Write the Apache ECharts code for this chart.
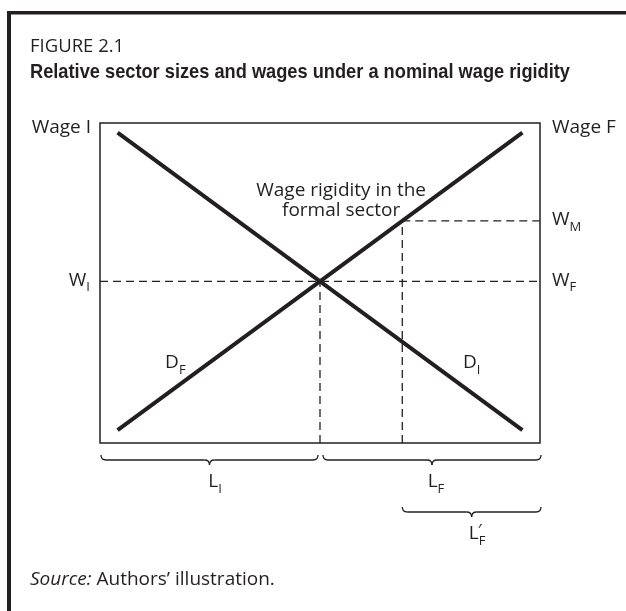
<!DOCTYPE html>
<html><head><meta charset="utf-8">
<script src="https://cdn.jsdelivr.net/npm/echarts@6/dist/echarts.min.js"></script>
<style>html,body{margin:0;padding:0;background:#fff}#c{width:626px;height:611px}</style>
</head><body><div id="c"></div>
<script>
// ---- data ----
const figureNumber = 'FIGURE 2.1';
const figureTitle = 'Relative sector sizes and wages under a nominal wage rigidity';
const sourceLabel = 'Source:';
const sourceText = ' Authors\u2019 illustration.';
const demandInformal = [[4, 97], [96, 4]];   // D_I
const demandFormal = [[4, 4], [96, 97]];     // D_F
const equilibriumPoint = [50, 50.5];
const rigidWageLevel = 69.4;                 // W_M
const rigidEmployment = 68.7;
const axisRange = [0, 100];
const rigidityNote = ['Wage rigidity in the', 'formal sector'];

const INK = '#231f20';
const FONT = '"Open Sans", "Noto Sans", sans-serif';
const TFONT = '"Liberation Sans", Arial, sans-serif';
const FS = 19;

const chart = echarts.init(document.getElementById('c'), null, {renderer: 'canvas'});

const dash = {color: INK, width: 1.3, type: [8, 5]};
function lineSeries(data, style) {
  return {type: 'line', data: data, symbol: 'none', silent: true, lineStyle: style, z: 3};
}

chart.setOption({
  animation: false,
  grid: {left: 100, top: 123, width: 440, height: 320, show: true, borderColor: INK, borderWidth: 1.5, backgroundColor: 'transparent'},
  xAxis: {type: 'value', min: axisRange[0], max: axisRange[1], show: false},
  yAxis: {type: 'value', min: axisRange[0], max: axisRange[1], show: false},
  series: [
    lineSeries([[axisRange[0], equilibriumPoint[1]], [axisRange[1], equilibriumPoint[1]]], dash),
    lineSeries([[equilibriumPoint[0], axisRange[0]], [equilibriumPoint[0], equilibriumPoint[1]]], dash),
    lineSeries([[rigidEmployment, rigidWageLevel], [axisRange[1], rigidWageLevel]], dash),
    lineSeries([[rigidEmployment, axisRange[0]], [rigidEmployment, rigidWageLevel]], dash),
    Object.assign(lineSeries(demandInformal, {color: INK, width: 4}), {z: 5}),
    Object.assign(lineSeries(demandFormal, {color: INK, width: 4}), {z: 5})
  ]
});

const mctx = document.createElement('canvas').getContext('2d');
function tw(text, size, family, weight, style) {
  mctx.font = (style || 'normal') + ' ' + (weight || 'normal') + ' ' + size + 'px ' + family;
  return mctx.measureText(text).width;
}
function txt(text, x, y, size, o) {
  o = o || {};
  return {type: 'text', x: x, y: y, silent: true, z: 10, scaleX: o.scaleX || 1,
    style: {text: text, fill: INK, fontSize: size, fontFamily: o.family || FONT,
      fontWeight: o.weight || 'normal', fontStyle: o.style || 'normal',
      textAlign: o.align || 'left', textVerticalAlign: 'middle'}};
}
function subLabel(main, sub, x, y, align, prime) {
  const ms = FS, ss = 13;
  const w = tw(main, ms, FONT), ws = tw(sub, ss, FONT);
  const total = w + ws;
  let sx = x;
  if (align === 'right') sx = x - total;
  else if (align === 'center') sx = x - total / 2;
  const els = [txt(main, sx, y, ms), txt(sub, sx + w, y + 7, ss)];
  if (prime) els.push(txt('\u2032', sx + w - 1, y - 3, 17));
  return els;
}
function toPx(p) { return chart.convertToPixel({gridIndex: 0}, p); }
const braceStyle = {fill: null, stroke: INK, lineWidth: 1.3};
function curve(xa, ya, cx, cy, xb, yb) {
  return {type: 'bezierCurve', silent: true, z: 10,
    shape: {x1: xa, y1: ya, cpx1: cx, cpy1: cy, x2: xb, y2: yb}, style: braceStyle};
}
function seg(xa, ya, xb, yb) {
  return {type: 'line', silent: true, z: 10, shape: {x1: xa, y1: ya, x2: xb, y2: yb}, style: braceStyle};
}
function brace(x1, x2, y) {
  const m = (x1 + x2) / 2, h = 5;
  return [
    curve(x1, y, x1, y + h, x1 + h, y + h),
    seg(x1 + h, y + h, m - h, y + h),
    curve(m - h, y + h, m, y + h, m, y + 2 * h),
    curve(m, y + 2 * h, m, y + h, m + h, y + h),
    seg(m + h, y + h, x2 - h, y + h),
    curve(x2 - h, y + h, x2, y + h, x2, y)
  ];
}

const pBL = toPx([axisRange[0], axisRange[0]]);
const pTR = toPx([axisRange[1], axisRange[1]]);
const pEq = toPx(equilibriumPoint);
const pRig = toPx([rigidEmployment, rigidWageLevel]);
const gL = pBL[0], gR = pTR[0], gT = pTR[1], gB = pBL[1];

const g = [];
g.push({type: 'rect', silent: true, shape: {x: 7, y: 11, width: 619, height: 3.5}, style: {fill: INK}});
g.push({type: 'rect', silent: true, shape: {x: 7, y: 11, width: 4, height: 600}, style: {fill: INK}});
g.push(txt(figureNumber, 30, 47, 18.5));
const titleW = tw(figureTitle, 20.5, TFONT, 'bold');
g.push(txt(figureTitle, 30, 72, 20.5, {family: TFONT, weight: 'bold', scaleX: 540 / titleW}));
g.push(txt('Wage I', gL - 9, gT + 5, FS, {align: 'right'}));
g.push(txt('Wage F', gR + 12, gT + 5, FS));
g.push.apply(g, subLabel('W', 'I', gL - 10, pEq[1] - 1, 'right'));
g.push.apply(g, subLabel('W', 'F', gR + 12, pEq[1] - 1, 'left'));
g.push.apply(g, subLabel('W', 'M', gR + 12, pRig[1] - 1, 'left'));
const pDF = toPx([14.8, 25]), pDI = toPx([82.5, 25]);
g.push.apply(g, subLabel('D', 'F', pDF[0], pDF[1], 'left'));
g.push.apply(g, subLabel('D', 'I', pDI[0], pDI[1], 'left'));
const pNote = toPx([54.8, 79]);
g.push(txt(rigidityNote[0], pNote[0], pNote[1], FS, {align: 'center'}));
g.push(txt(rigidityNote[1], pNote[0], pNote[1] + 20, FS, {align: 'center'}));
g.push.apply(g, brace(gL + 1, pEq[0] - 2, gB + 12));
g.push.apply(g, brace(pEq[0] + 3, gR + 1, gB + 12));
g.push.apply(g, brace(pRig[0], gR + 1, gB + 64));
g.push.apply(g, subLabel('L', 'I', (gL + pEq[0]) / 2 + 5, gB + 39, 'center'));
g.push.apply(g, subLabel('L', 'F', (pEq[0] + gR) / 2 + 6, gB + 39, 'center'));
g.push.apply(g, subLabel('L', 'F', (pRig[0] + gR) / 2 + 6, gB + 91, 'center', true));
const sw = tw(sourceLabel, FS, FONT, 'normal', 'italic');
g.push(txt(sourceLabel, 30, 580, FS, {style: 'italic'}));
g.push(txt(sourceText, 30 + sw, 580, FS));

chart.setOption({graphic: g});
</script></body></html>
